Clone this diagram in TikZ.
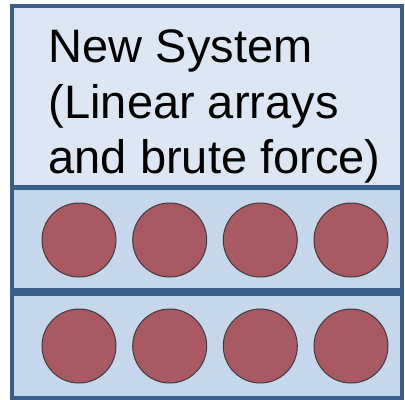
\documentclass[tikz,border=0pt]{standalone}
\usepackage{fontspec}
\setmainfont{Liberation Sans}
\definecolor{edgeblue}{RGB}{58,94,138}
\definecolor{topfill}{RGB}{221,231,243}
\definecolor{rowfill}{RGB}{198,215,236}
\definecolor{ballfill}{RGB}{168,89,97}
\definecolor{balledge}{RGB}{60,60,64}
\tikzset{
  panel/.style={draw=edgeblue, line width=4.5bp},
  ball/.style={circle, draw=balledge, line width=1bp, fill=ballfill, minimum size=74bp, inner sep=0pt},
  label/.style={anchor=base west, inner sep=0pt, font=\fontsize{47bp}{55bp}\selectfont}
}
\begin{document}
\begin{tikzpicture}[x=1bp,y=-1bp]
\useasboundingbox (0,0) rectangle (405,400);
\fill[white] (0,0) rectangle (405,400);
\filldraw[panel, fill=topfill] (12,6) rectangle (402,398);
\filldraw[panel, fill=rowfill] (12,187.5) rectangle (402,290.5);
\filldraw[panel, fill=rowfill] (12,294) rectangle (402,398);
\node[label] (l1) at (48.5,62) {New System};
\node[label] (l2) at (48.5,118) {(Linear arrays};
\node[label] (l3) at (48.5,173) {and brute force)};
\foreach \i/\x in {1/79,2/169.7,3/260.3,4/351} {
  \node[ball] (a\i) at (\x,240) {};
  \node[ball] (b\i) at (\x,346) {};
}
\end{tikzpicture}
\end{document}
